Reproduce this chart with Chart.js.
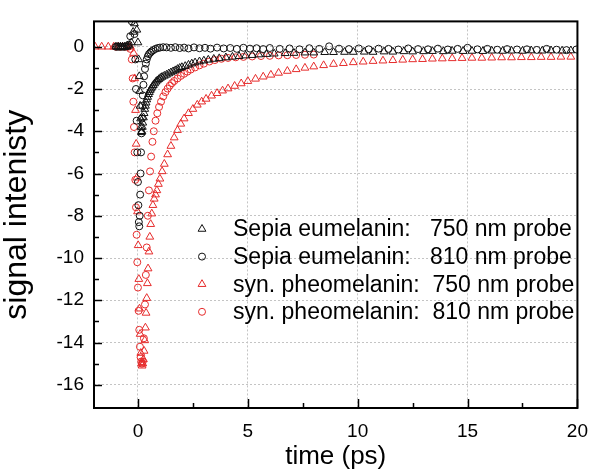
<!DOCTYPE html>
<html>
<head>
<meta charset="utf-8">
<script src="https://cdn.jsdelivr.net/npm/chart.js@4.4.1/dist/chart.umd.min.js"></script>
<style>
  html, body { margin: 0; padding: 0; background: #fff; }
  canvas { display: block; }
</style>
</head>
<body>
<canvas id="chart" width="600" height="475"></canvas>
<script>
/* --------------- Data: [time (ps), signal] --------------- */
const eu750 = [
  [-1.0,0],[-0.9,0],[-0.8,0],[-0.7,0],[-0.6,0],[-0.5,0],[-0.4,0.05],[-0.3,0.2],[-0.22,0.7],[-0.16,1.1],
  [-0.1,1.4],[-0.05,0.8],[0,0.2],[0.03,-0.6],[0.06,-1.4],[0.08,-2.1],[0.1,-2.8],[0.12,-3.4],[0.14,-3.8],[0.16,-4.05],
  [0.18,-4.0],[0.2,-3.8],[0.22,-3.6],[0.25,-3.35],[0.28,-3.15],[0.31,-2.95],[0.34,-2.8],[0.37,-2.65],[0.4,-2.5],[0.44,-2.38],
  [0.48,-2.25],[0.52,-2.15],[0.56,-2.05],[0.6,-1.98],[0.65,-1.9],[0.7,-1.82],[0.76,-1.74],[0.82,-1.66],[0.88,-1.6],[0.95,-1.54],
  [1.02,-1.48],[1.1,-1.43],[1.2,-1.38],[1.3,-1.33],[1.4,-1.27],[1.5,-1.22],[1.6,-1.17],[1.7,-1.12],[1.8,-1.06],[1.9,-1.01],
  [2.0,-0.97],[2.15,-0.92],[2.3,-0.86],[2.45,-0.8],[2.6,-0.75],[2.8,-0.7],[3.0,-0.66],[3.2,-0.62],[3.45,-0.58],[3.7,-0.55],
  [4.0,-0.51],[4.3,-0.48],[4.6,-0.45],[4.9,-0.42],[5.2,-0.4],[5.5,-0.37],[5.85,-0.35],[6.2,-0.33],[6.7,-0.31],[7.1,-0.3],
  [7.6,-0.28],[8.0,-0.28],[8.5,-0.26],[8.9,-0.26],[9.4,-0.25],[9.8,-0.25],[10.3,-0.24],[10.7,-0.25],[11.2,-0.23],[11.6,-0.24],
  [12.1,-0.22],[12.5,-0.23],[13.0,-0.22],[13.4,-0.21],[13.9,-0.22],[14.3,-0.2],[14.8,-0.21],[15.2,-0.2],[15.7,-0.21],[16.1,-0.19],
  [16.6,-0.2],[17.0,-0.19],[17.5,-0.2],[17.9,-0.18],[18.4,-0.19],[18.8,-0.18],[19.3,-0.19],[19.7,-0.18]
];
const eu810 = [
  [-1.0,0],[-0.9,0],[-0.8,0],[-0.7,0],[-0.6,0],[-0.5,0.02],[-0.42,0.1],[-0.35,0.5],[-0.28,1.2],[-0.22,1.4],
  [-0.16,0.6],[-0.12,-0.6],[-0.09,-2.0],[-0.06,-3.5],[-0.03,-5.0],[0,-6.4],[0.02,-7.5],[0.04,-8.3],[0.06,-8.5],[0.08,-8.0],
  [0.1,-7.0],[0.12,-6.0],[0.14,-5.0],[0.16,-4.1],[0.18,-3.4],[0.2,-2.8],[0.22,-2.3],[0.25,-1.8],[0.28,-1.4],[0.32,-1.05],
  [0.36,-0.8],[0.4,-0.6],[0.45,-0.45],[0.5,-0.35],[0.56,-0.28],[0.62,-0.22],[0.7,-0.16],[0.8,-0.1],[0.9,-0.06],[1.0,-0.04],
  [1.15,-0.02],[1.3,-0.03],[1.5,-0.05],[1.7,-0.02],[1.9,-0.06],[2.1,-0.04],[2.3,-0.08],[2.55,-0.03],[2.8,-0.07],[3.05,-0.05],
  [3.3,-0.09],[3.6,-0.04],[3.9,-0.08],[4.2,-0.06],[4.5,-0.1],[4.8,-0.05],[5.1,-0.09],[5.4,-0.07],[5.7,-0.11],[6.0,-0.06],
  [6.45,-0.1],[6.9,-0.08],[7.35,-0.12],[7.8,-0.07],[8.25,-0.1],[8.7,0.02],[9.15,-0.09],[9.6,-0.11],[10.05,-0.08],[10.5,-0.12],
  [10.95,-0.09],[11.4,-0.1],[11.85,-0.13],[12.3,-0.08],[12.75,-0.11],[13.2,-0.12],[13.65,-0.09],[14.1,-0.13],[14.55,-0.1],[15.0,-0.05],
  [15.45,-0.12],[15.9,-0.1],[16.35,-0.14],[16.8,-0.11],[17.25,-0.13],[17.7,-0.12],[18.15,-0.15],[18.6,-0.1],[19.05,-0.14],[19.5,-0.16],
  [19.95,-0.13]
];
const pheo750 = [
  [-1.95,0],[-1.65,0],[-1.35,0],[-1.1,0],[-0.9,0],[-0.7,0],[-0.5,0],[-0.35,0],[-0.2,-0.3],[-0.15,-1.5],
  [-0.11,-3.0],[-0.08,-4.6],[-0.05,-6.2],[-0.02,-7.8],[0.01,-9.4],[0.04,-11.0],[0.07,-12.4],[0.1,-13.6],[0.13,-14.5],[0.16,-15.0],
  [0.19,-15.1],[0.22,-15.0],[0.25,-14.8],[0.28,-14.4],[0.31,-13.9],[0.34,-13.3],[0.37,-12.6],[0.4,-11.9],[0.43,-11.2],[0.46,-10.5],
  [0.5,-9.7],[0.54,-9.0],[0.58,-8.4],[0.63,-7.9],[0.68,-7.5],[0.74,-7.2],[0.8,-7.0],[0.86,-6.8],[0.93,-6.5],[1.0,-6.25],
  [1.1,-5.9],[1.2,-5.55],[1.35,-5.1],[1.5,-4.7],[1.65,-4.3],[1.8,-3.95],[1.95,-3.65],[2.1,-3.4],[2.3,-3.15],[2.5,-2.95],
  [2.7,-2.75],[2.9,-2.6],[3.1,-2.47],[3.35,-2.32],[3.6,-2.2],[3.85,-2.08],[4.1,-1.98],[4.4,-1.86],[4.7,-1.74],[5.0,-1.63],
  [5.35,-1.52],[5.7,-1.42],[6.05,-1.33],[6.4,-1.24],[6.8,-1.15],[7.2,-1.07],[7.6,-1.0],[8.0,-0.94],[8.45,-0.88],[8.9,-0.82],
  [9.35,-0.78],[9.8,-0.74],[10.25,-0.71],[10.7,-0.68],[11.15,-0.66],[11.6,-0.64],[12.05,-0.62],[12.5,-0.6],[12.95,-0.59],[13.4,-0.57],
  [13.85,-0.56],[14.3,-0.55],[14.75,-0.54],[15.2,-0.53],[15.65,-0.53],[16.1,-0.52],[16.55,-0.51],[17.0,-0.51],[17.45,-0.5],[17.9,-0.5],
  [18.35,-0.49],[18.8,-0.49],[19.25,-0.48],[19.7,-0.48]
];
const pheo810 = [
  [-1.0,0],[-0.8,0],[-0.6,0],[-0.45,0],[-0.35,-0.1],[-0.28,-0.6],[-0.24,-1.5],[-0.21,-2.6],[-0.18,-3.8],[-0.15,-5.0],
  [-0.12,-6.3],[-0.09,-7.6],[-0.06,-8.9],[-0.03,-10.2],[0,-11.4],[0.03,-12.5],[0.06,-13.4],[0.09,-14.2],[0.12,-14.7],[0.15,-14.9],
  [0.18,-15.0],[0.22,-14.9],[0.27,-13.8],[0.32,-12.2],[0.36,-10.8],[0.4,-9.5],[0.45,-8.0],[0.5,-6.8],[0.55,-5.9],[0.6,-5.2],
  [0.66,-4.5],[0.72,-4.0],[0.8,-3.5],[0.88,-3.15],[0.96,-2.85],[1.05,-2.6],[1.15,-2.35],[1.25,-2.15],[1.35,-1.98],[1.45,-1.84],
  [1.55,-1.72],[1.65,-1.62],[1.8,-1.5],[1.95,-1.38],[2.1,-1.28],[2.25,-1.18],[2.4,-1.08],[2.6,-0.98],[2.8,-0.88],[3.0,-0.8],
  [3.25,-0.7],[3.5,-0.63],[3.8,-0.57],[4.1,-0.53],[4.45,-0.5],[4.8,-0.48],[5.2,-0.46],[5.6,-0.44],[6.0,-0.43],[6.4,-0.41],
  [6.8,-0.4],[7.2,-0.39],[7.6,-0.38],[8.0,-0.37]
];

/* --------------- Labels and ticks --------------- */
const seriesLabels = [
  "Sepia eumelanin:   750 nm probe",
  "Sepia eumelanin:   810 nm probe",
  "syn. pheomelanin:  750 nm probe",
  "syn. pheomelanin:  810 nm probe"
];
const xMajor = [0, 5, 10, 15, 20];
const xMinor = [2.5, 7.5, 12.5, 17.5];
const yMajor = [0, -2, -4, -6, -8, -10, -12, -14, -16];
const yMinor = [-1, -3, -5, -7, -9, -11, -13, -15];

const FONT = '"Liberation Sans", Arial, sans-serif';
const BLACK = "#111111";
const RED = "#e62b2b";

const toPts = (arr) => arr.map(([x, y]) => ({ x: x, y: y }));

/* --------------- Inward ticks, frame and in-plot legend --------------- */
const framePlugin = {
  id: "frame",
  afterDraw(chart) {
    const c = chart.ctx;
    const a = chart.chartArea;
    const sx = chart.scales.x;
    const sy = chart.scales.y;
    c.save();
    c.strokeStyle = "#000";
    c.lineWidth = 1.5;
    c.beginPath();
    xMajor.forEach((v) => {
      const px = Math.round(sx.getPixelForValue(v)) + 0.5;
      c.moveTo(px, a.bottom); c.lineTo(px, a.bottom - 9);
    });
    xMinor.forEach((v) => {
      const px = Math.round(sx.getPixelForValue(v)) + 0.5;
      c.moveTo(px, a.bottom); c.lineTo(px, a.bottom - 5);
    });
    yMajor.forEach((v) => {
      const py = Math.round(sy.getPixelForValue(v)) + 0.5;
      c.moveTo(a.left, py); c.lineTo(a.left + 8, py);
    });
    yMinor.forEach((v) => {
      const py = Math.round(sy.getPixelForValue(v)) + 0.5;
      c.moveTo(a.left, py); c.lineTo(a.left + 5, py);
    });
    c.stroke();
    c.lineWidth = 2;
    c.strokeRect(a.left, a.top, a.right - a.left, a.bottom - a.top);

    // legend
    c.font = "23px " + FONT;
    c.textBaseline = "middle";
    c.lineWidth = 1;
    chart.data.datasets.forEach((ds, i) => {
      const y = 229 + i * 27.6;
      const x = 202;
      c.strokeStyle = ds.borderColor;
      c.beginPath();
      if (ds.pointStyle === "triangle") {
        const r = ds.pointRadius;
        let rad = 0;
        c.moveTo(x + Math.sin(rad) * r, y - Math.cos(rad) * r);
        rad += Math.PI * 2 / 3;
        c.lineTo(x + Math.sin(rad) * r, y - Math.cos(rad) * r);
        rad += Math.PI * 2 / 3;
        c.lineTo(x + Math.sin(rad) * r, y - Math.cos(rad) * r);
        c.closePath();
      } else {
        c.arc(x, y, ds.pointRadius, 0, Math.PI * 2);
      }
      c.stroke();
      c.fillStyle = "#000";
      c.fillText(ds.label, 233, y + 1);
    });
    c.restore();
  }
};

const makeSet = (label, pts, style, color) => ({
  label: label,
  data: toPts(pts),
  pointStyle: style,
  pointRadius: style === "triangle" ? 4.5 : 3.5,
  pointBorderWidth: 1,
  borderColor: color,
  pointBorderColor: color,
  pointBackgroundColor: "rgba(0,0,0,0)",
  showLine: false,
  clip: 0
});

new Chart(document.getElementById("chart"), {
  type: "scatter",
  plugins: [framePlugin],
  data: {
    datasets: [
      makeSet(seriesLabels[0], eu750, "triangle", BLACK),
      makeSet(seriesLabels[1], eu810, "circle", BLACK),
      makeSet(seriesLabels[2], pheo750, "triangle", RED),
      makeSet(seriesLabels[3], pheo810, "circle", RED)
    ]
  },
  options: {
    responsive: false,
    animation: false,
    devicePixelRatio: 1,
    layout: { padding: { left: 0, right: 15, top: 5, bottom: 0 } },
    plugins: { legend: { display: false }, tooltip: { enabled: false } },
    scales: {
      x: {
        type: "linear",
        min: -2,
        max: 20,
        afterBuildTicks: (s) => { s.ticks = xMajor.map((v) => ({ value: v })); },
        afterFit: (s) => { s.height = 67; },
        ticks: { color: "#000", font: { family: FONT, size: 19 }, padding: 12 },
        grid: { color: "#c4c4c4", lineWidth: 1, drawTicks: false },
        border: { display: false, dash: [2, 2] },
        title: { display: true, text: "time (ps)", color: "#000", font: { family: FONT, size: 26 }, padding: { top: 0, bottom: 3 } }
      },
      y: {
        type: "linear",
        min: -17.1,
        max: 1.2,
        afterBuildTicks: (s) => { s.ticks = yMajor.map((v) => ({ value: v })); },
        afterFit: (s) => { s.width = 94; },
        ticks: { color: "#000", font: { family: FONT, size: 19 }, padding: 10 },
        grid: { color: "#c4c4c4", lineWidth: 1, drawTicks: false },
        border: { display: false, dash: [2, 2] },
        title: { display: true, text: "signal intenisty", color: "#000", font: { family: FONT, size: 32 }, padding: { top: -2, bottom: 0 } }
      }
    }
  }
});
</script>
</body>
</html>
